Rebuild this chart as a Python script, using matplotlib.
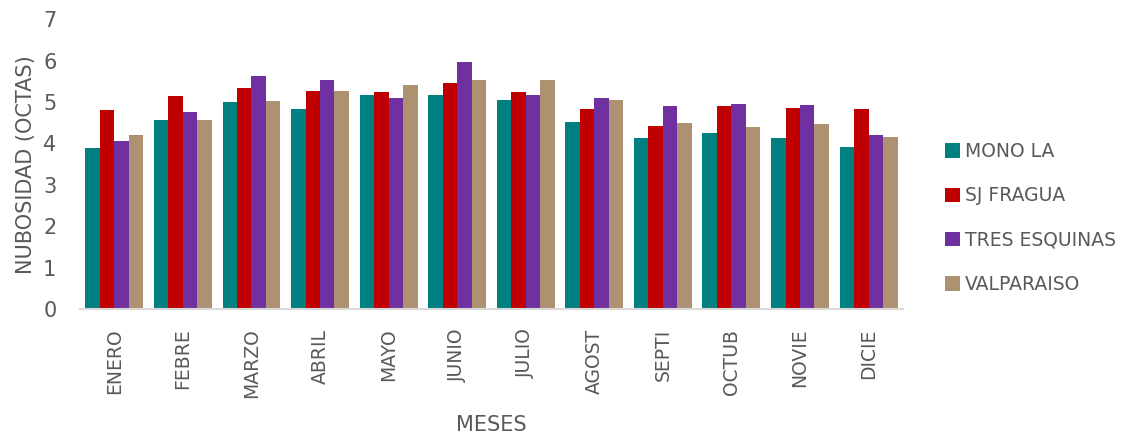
import numpy as np
import matplotlib
matplotlib.use("Agg")
import matplotlib.pyplot as plt

# Monthly mean cloudiness (octas) per station
meses = ['ENERO', 'FEBRE', 'MARZO', 'ABRIL', 'MAYO', 'JUNIO',
         'JULIO', 'AGOST', 'SEPTI', 'OCTUB', 'NOVIE', 'DICIE']
mono_la = [3.88, 4.56, 4.99, 4.84, 5.18, 5.17, 5.06, 4.52, 4.13, 4.26, 4.12, 3.91]
sj_fragua = [4.81, 5.15, 5.33, 5.26, 5.23, 5.45, 5.23, 4.84, 4.42, 4.91, 4.86, 4.84]
tres_esquinas = [4.07, 4.75, 5.62, 5.52, 5.09, 5.97, 5.16, 5.09, 4.91, 4.96, 4.92, 4.21]
valparaiso = [4.20, 4.56, 5.02, 5.27, 5.41, 5.52, 5.52, 5.06, 4.50, 4.40, 4.48, 4.15]

series = [('MONO LA', mono_la, '#008080'),
          ('SJ FRAGUA', sj_fragua, '#C00000'),
          ('TRES ESQUINAS', tres_esquinas, '#7030A0'),
          ('VALPARAISO', valparaiso, '#AD9171')]

gray = '#595959'
fig = plt.figure(figsize=(11.21, 4.36), dpi=100)
ax = fig.add_axes([0.0714, 0.291, 0.7340, 0.665])

x = np.arange(len(meses))
w = 0.211
for i, (name, vals, col) in enumerate(series):
    ax.bar(x + (i - 1.5) * w, vals, width=w, color=col, label=name)

ax.set_xlim(-0.5, len(meses) - 0.5)
ax.set_ylim(0, 7)
ax.set_yticks(range(0, 8))
ax.set_xticks(x)
ax.set_xticklabels(meses, rotation=90)

for s in ['top', 'right', 'left']:
    ax.spines[s].set_visible(False)
ax.spines['bottom'].set_color('#D9D9D9')
ax.spines['bottom'].set_linewidth(1.5)

ax.tick_params(axis='x', length=0, pad=14, labelsize=13.5, labelcolor=gray)
ax.tick_params(axis='y', length=0, pad=17, labelsize=15, labelcolor=gray)

ax.set_ylabel('NUBOSIDAD (OCTAS)', fontsize=15, color=gray, labelpad=5)
ax.set_xlabel('MESES', fontsize=15, color=gray, labelpad=12)

fig.legend(loc='center left', bbox_to_anchor=(0.843, 0.5), frameon=False,
           fontsize=13.5, labelcolor=gray, handlelength=0.8, handleheight=0.8,
           handletextpad=0.25, labelspacing=1.35, borderaxespad=0, borderpad=0)

fig.savefig('out.png', dpi=100)
